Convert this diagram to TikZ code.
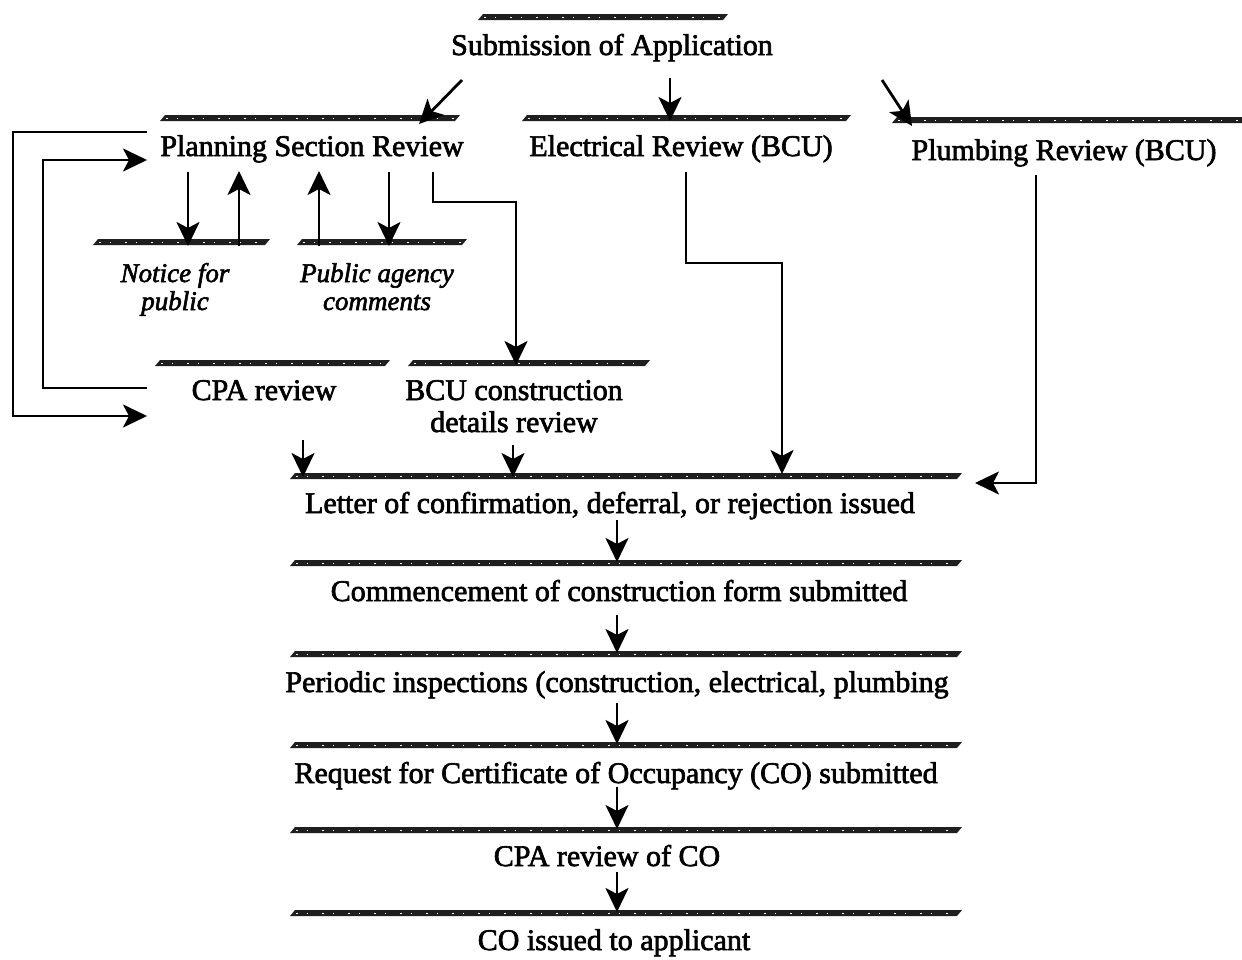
\documentclass[tikz,border=0pt]{standalone}
\usepackage{fontspec}
\setmainfont{Liberation Serif}[FakeBold=2.2]
\usetikzlibrary{arrows.meta}
\begin{document}
\begin{tikzpicture}[x=1pt,y=-1pt,
  lbl/.style={anchor=base,inner sep=0pt,font=\fontsize{30}{32}\selectfont,align=center},
  ital/.style={lbl,font=\fontsize{27}{28}\selectfont\itshape},
  arr/.style={line width=2.8pt,-{Stealth[length=24pt,width=23pt,inset=6pt]}},
  barfill/.style={fill=black!88},
  grain/.style={white,line width=0.8pt,dash pattern=on 2pt off 9pt on 1pt off 14pt}]
\useasboundingbox (0,0) rectangle (1242,959);

% top edges of the boxes: slanted, grainy bars
\newcommand{\topbar}[3]{%
  \fill[barfill] (#1,#3+3) -- (#2-5,#3+3) -- (#2,#3-3) -- (#1+5,#3-3) -- cycle;
  \draw[grain] (#1+6,#3+0.4) -- (#2-6,#3+0.4);}
\topbar{478}{728}{17}
\topbar{160}{460}{118}
\topbar{522}{851}{118}
\topbar{892}{1248}{120}
\topbar{93}{270}{242}
\topbar{297}{467}{242}
\topbar{155}{390}{363}
\topbar{408}{650}{363}
\topbar{290}{962}{476}
\topbar{290}{962}{563}
\topbar{290}{962}{654}
\topbar{290}{962}{745}
\topbar{290}{962}{830}
\topbar{290}{962}{913}

% boxes (base anchor = baseline of the last line)
\node[lbl] (sub) at (612,55) {Submission of Application};
\node[lbl] (plan) at (312,156) {Planning Section Review};
\node[lbl] (elec) at (681,156) {Electrical Review (BCU)};
\node[lbl] (plumb) at (1064,160) {Plumbing Review (BCU)};
\node[ital] (notice) at (175,310) {Notice for\\public};
\node[ital] (agency) at (377,310) {Public agency\\comments};
\node[lbl] (cpa) at (264,400) {CPA review};
\node[lbl] (bcu) at (514,432) {BCU construction\\details review};
\node[lbl] (letter) at (610,513) {Letter of confirmation, deferral, or rejection issued};
\node[lbl] (comm) at (619,601) {Commencement of construction form submitted};
\node[lbl] (insp) at (617,692) {Periodic inspections (construction, electrical, plumbing};
\node[lbl] (req) at (616,783) {Request for Certificate of Occupancy (CO) submitted};
\node[lbl] (cporev) at (607,866) {CPA review of CO};
\node[lbl] (issued) at (614,950) {CO issued to applicant};

% connector end points
\coordinate (sub-l) at (462,80);   \coordinate (plan-in) at (419,124);
\coordinate (sub-m) at (670,78);   \coordinate (elec-in) at (670,121);
\coordinate (sub-r) at (882,80);   \coordinate (plumb-in) at (912,126);
\coordinate (plan-n1) at (188,172); \coordinate (notice-in) at (188,246);
\coordinate (notice-out) at (239,246); \coordinate (plan-n2) at (239,171);
\coordinate (agency-out) at (319,246); \coordinate (plan-a2) at (319,171);
\coordinate (plan-a1) at (389,172); \coordinate (agency-in) at (389,246);
\coordinate (plan-b) at (433,172);  \coordinate (bcu-in) at (516,365);
\coordinate (elec-out) at (686,172); \coordinate (letter-e) at (782,474);
\coordinate (plumb-out) at (1036,175); \coordinate (letter-p) at (975,483);
\coordinate (plan-w) at (147,132);  \coordinate (cpa-in) at (147,416);
\coordinate (cpa-w) at (147,388);   \coordinate (plan-back) at (147,160);
\coordinate (cpa-out) at (303,440); \coordinate (letter-c) at (303,477);
\coordinate (bcu-out) at (513,445); \coordinate (letter-b) at (513,477);

% fan-out from the application
\draw[arr] (sub-l) -- (plan-in);
\draw[arr] (sub-m) -- (elec-in);
\draw[arr] (sub-r) -- (plumb-in);

% planning review exchanges
\draw[arr] (plan-n1) -- (notice-in);
\draw[arr] (notice-out) -- (plan-n2);
\draw[arr] (agency-out) -- (plan-a2);
\draw[arr] (plan-a1) -- (agency-in);
\draw[arr] (plan-b) -- (433,202) -- (516,202) -- (bcu-in);

% loops between planning and CPA review
\draw[arr] (plan-w) -- (13,132) -- (13,416) -- (cpa-in);
\draw[arr] (cpa-w) -- (43,388) -- (43,160) -- (plan-back);

% trade reviews into the letter
\draw[arr] (elec-out) -- (686,263) -- (782,263) -- (letter-e);
\draw[arr] (plumb-out) -- (1036,483) -- (letter-p);
\draw[arr] (cpa-out) -- (letter-c);
\draw[arr] (bcu-out) -- (letter-b);

% main sequence
\draw[arr] (617,520) -- (617,562);
\draw[arr] (617,615) -- (617,653);
\draw[arr] (617,703) -- (617,744);
\draw[arr] (617,787) -- (617,829);
\draw[arr] (617,872) -- (617,912);
\end{tikzpicture}
\end{document}
